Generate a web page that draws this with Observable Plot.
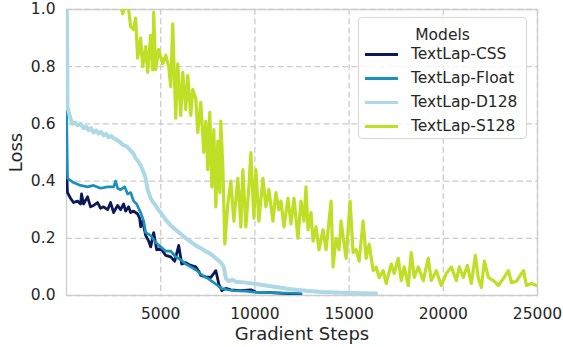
<!DOCTYPE html>
<html>
<head>
<meta charset="utf-8">
<script src="https://cdn.jsdelivr.net/npm/d3@7"></script>
<script src="https://cdn.jsdelivr.net/npm/@observablehq/plot@0.6"></script>
<style>
  html, body { margin: 0; padding: 0; background: #fff; }
  #wrap { position: relative; width: 563px; height: 347px; font-family: "DejaVu Sans", sans-serif; color: #262626; }
  #legend { position: absolute; left: 358px; top: 17px; width: 169px; height: 122px; box-sizing: border-box;
    border: 1px solid #d6d6d6; border-radius: 4px; background: rgba(255,255,255,0.8); font-size: 15.5px; }
  #legend .title { position: absolute; left: 0; width: 100%; top: 8px; text-align: center; line-height: 18px; }
  #legend .row { position: absolute; left: 6px; height: 20px; display: flex; align-items: center; }
  #legend .sw { width: 33px; height: 3px; margin-right: 13px; }
</style>
</head>
<body>
<div id="wrap"></div>
<script>
const models = ["TextLap-CSS", "TextLap-Float", "TextLap-D128", "TextLap-S128"];
const xTicks = [5000, 10000, 15000, 20000, 25000];
const yTicks = [0, 0.2, 0.4, 0.6, 0.8, 1.0];

// [gradient step, loss]
const cssLoss = [
  [0,0.44],[53,0.36],[213,0.34],[372,0.325],[585,0.33],[745,0.32],[800,0.355],[904,0.32],[1117,0.345],[1277,0.31],
  [1436,0.315],[1649,0.325],[1808,0.305],[1968,0.31],[2181,0.30],[2340,0.325],[2500,0.29],[2713,0.315],
  [2872,0.30],[3032,0.32],[3138,0.295],[3298,0.31],[3404,0.29],[3564,0.295],[3776,0.285],[3883,0.27],
  [3936,0.24],[4042,0.26],[4202,0.21],[4362,0.19],[4468,0.17],[4628,0.22],[4787,0.16],[5000,0.165],
  [5266,0.14],[5532,0.135],[5745,0.12],[5957,0.175],[6117,0.11],[6330,0.115],[6596,0.105],[6862,0.10],
  [7021,0.085],[7127,0.07],[7393,0.065],[7659,0.063],[7925,0.087],[8085,0.04],[8245,0.017],[8457,0.025],
  [8723,0.02],[9255,0.017],[9787,0.02],[10053,0.012],[10851,0.01],[11915,0.006],[12446,0.005]
];
const floatLoss = [
  [0,0.66],[53,0.41],[372,0.395],[745,0.385],[1117,0.38],[1436,0.385],[1808,0.375],[2181,0.38],[2500,0.38],
  [2606,0.40],[2713,0.375],[2872,0.37],[3085,0.38],[3245,0.355],[3404,0.36],[3564,0.33],[3723,0.32],
  [3936,0.29],[4096,0.26],[4202,0.22],[4468,0.21],[4734,0.185],[5000,0.17],[5266,0.155],[5532,0.155],
  [5798,0.135],[6064,0.125],[6330,0.11],[6596,0.10],[6862,0.09],[7127,0.075],[7340,0.065],[7500,0.06],
  [7819,0.045],[8032,0.035],[8191,0.025],[8564,0.02],[8883,0.017],[9521,0.015],[9947,0.012],[10851,0.01],
  [12446,0.007]
];
const d128Loss = [
  [0,1.2],[53,0.66],[160,0.63],[300,0.60],[450,0.605],[600,0.595],[750,0.60],[904,0.585],[1050,0.59],
  [1170,0.578],[1300,0.585],[1436,0.57],[1570,0.577],[1702,0.566],[1830,0.572],[1968,0.56],[2100,0.565],
  [2234,0.553],[2370,0.558],[2500,0.55],[2640,0.545],[2766,0.54],[2900,0.532],[3032,0.525],[3170,0.522],
  [3298,0.515],[3430,0.505],[3564,0.495],[3670,0.48],[3776,0.472],[3936,0.455],[4096,0.43],[4202,0.41],
  [4308,0.37],[4468,0.34],[4600,0.325],[4734,0.315],[4870,0.30],[5000,0.29],[5266,0.265],[5400,0.255],
  [5532,0.245],[5798,0.23],[6064,0.215],[6330,0.20],[6596,0.188],[6862,0.175],[7127,0.165],[7393,0.155],
  [7659,0.145],[7925,0.13],[8191,0.115],[8351,0.10],[8457,0.06],[8617,0.05],[8800,0.055],[8989,0.048],
  [9521,0.045],[10053,0.04],[10585,0.035],[11117,0.03],[11915,0.022],[12712,0.017],[13510,0.012],
  [14574,0.01],[15638,0.008],[16436,0.007]
];
const s128Loss = [
  [0,1.6],[1000,1.4],[2000,1.2],[2700,1.08],[2979,0.985],[3245,1.03],[3404,0.94],[3564,0.93],[3670,0.97],
  [3776,0.83],[3936,0.90],[4042,0.80],[4202,0.87],[4308,0.78],[4468,0.91],[4574,0.79],[4628,0.99],
  [4734,0.79],[4893,0.86],[5106,0.81],[5266,0.84],[5425,0.80],[5532,0.73],[5638,0.95],[5798,0.62],
  [5904,0.81],[6064,0.63],[6170,0.78],[6330,0.65],[6436,0.77],[6596,0.63],[6702,0.72],[6862,0.69],
  [6968,0.57],[7127,0.675],[7287,0.50],[7393,0.61],[7500,0.44],[7606,0.64],[7713,0.38],[7819,0.58],
  [7925,0.31],[8032,0.54],[8138,0.36],[8191,0.61],[8298,0.45],[8404,0.18],[8564,0.32],[8723,0.40],
  [8883,0.26],[9095,0.41],[9255,0.24],[9361,0.44],[9521,0.24],[9681,0.38],[9787,0.50],[9947,0.27],
  [10053,0.44],[10212,0.26],[10425,0.41],[10585,0.31],[10744,0.37],[10957,0.26],[11117,0.36],[11276,0.30],
  [11383,0.33],[11542,0.24],[11755,0.34],[11915,0.25],[12074,0.34],[12287,0.20],[12446,0.33],[12606,0.26],
  [12712,0.38],[12819,0.23],[12978,0.29],[13085,0.19],[13244,0.24],[13404,0.16],[13617,0.23],[13776,0.16],
  [14042,0.33],[14149,0.10],[14308,0.20],[14468,0.16],[14574,0.26],[14840,0.13],[15053,0.33],[15212,0.15],
  [15372,0.16],[15531,0.12],[15744,0.26],[15904,0.13],[16063,0.18],[16276,0.087],[16436,0.10],[16595,0.063],
  [16808,0.087],[16968,0.042],[17234,0.11],[17393,0.077],[17606,0.13],[17765,0.052],[17925,0.10],
  [18138,0.035],[18297,0.15],[18457,0.063],[18670,0.10],[18936,0.052],[19202,0.13],[19361,0.052],
  [19627,0.087],[19893,0.035],[20159,0.077],[20425,0.10],[20691,0.052],[20850,0.10],[21063,0.063],
  [21276,0.105],[21489,0.042],[21702,0.14],[21861,0.06],[22021,0.028],[22180,0.12],[22393,0.063],
  [22659,0.052],[22925,0.035],[23191,0.06],[23457,0.087],[23617,0.045],[23883,0.05],[24255,0.087],
  [24415,0.035],[24681,0.042],[24947,0.035]
];

const seriesValues = [cssLoss, floatLoss, d128Loss, s128Loss];
const rows = seriesValues.flatMap((s, i) => s.map(([step, loss]) => ({model: models[i], step, loss})));

const colorRange = ["#0b1a57", "#1b8fbd", "#add8e6", "#bfdf26"];
const strokeWidths = [2.8, 2.7, 4.0, 3.2];
const grid = {stroke: "#cccccc", strokeOpacity: 1, strokeWidth: 1.3, strokeDasharray: "6,3.2"};

const chart = Plot.plot({
  width: 563,
  height: 347,
  marginLeft: 66,
  marginRight: 26,
  marginTop: 9,
  marginBottom: 52,
  style: {fontFamily: "DejaVu Sans, sans-serif", fontSize: "15.5px", color: "#262626", background: "#fff"},
  x: {domain: [0, 25000]},
  y: {domain: [0, 1]},
  color: {domain: models, range: colorRange},
  marks: [
    Plot.gridX(xTicks, {...grid}),
    Plot.gridY(yTicks, {...grid}),
    Plot.frame({stroke: "#cccccc", strokeWidth: 1.3}),
    Plot.axisX(xTicks, {tickSize: 0, tickPadding: 12, tickFormat: d => String(d), label: null, fontSize: 15.5}),
    Plot.axisY(yTicks, {tickSize: 0, tickPadding: 11, tickFormat: d => d.toFixed(1), label: null, fontSize: 15.5}),
    ...models.map((m, i) => Plot.line(rows.filter(r => r.model === m), {
      x: "step", y: "loss", stroke: "model", strokeWidth: strokeWidths[i], clip: true, strokeLinejoin: "round"
    })),
    Plot.text(["Gradient Steps"], {frameAnchor: "bottom", dy: 44, lineAnchor: "bottom", fontSize: "18px", fill: "#262626"}),
    Plot.text(["Loss"], {frameAnchor: "left", dx: -50, rotate: -90, textAnchor: "middle", fontSize: "18px", fill: "#262626"})
  ]
});

const wrap = document.getElementById("wrap");
wrap.appendChild(chart);

const legend = document.createElement("div");
legend.id = "legend";
const title = document.createElement("div");
title.className = "title";
title.textContent = "Models";
legend.appendChild(title);
models.forEach((m, i) => {
  const row = document.createElement("div");
  row.className = "row";
  row.style.top = (26 + i * 24) + "px";
  const sw = document.createElement("div");
  sw.className = "sw";
  sw.style.background = colorRange[i];
  const label = document.createElement("span");
  label.textContent = m;
  row.appendChild(sw);
  row.appendChild(label);
  legend.appendChild(row);
});
wrap.appendChild(legend);
</script>
</body>
</html>
